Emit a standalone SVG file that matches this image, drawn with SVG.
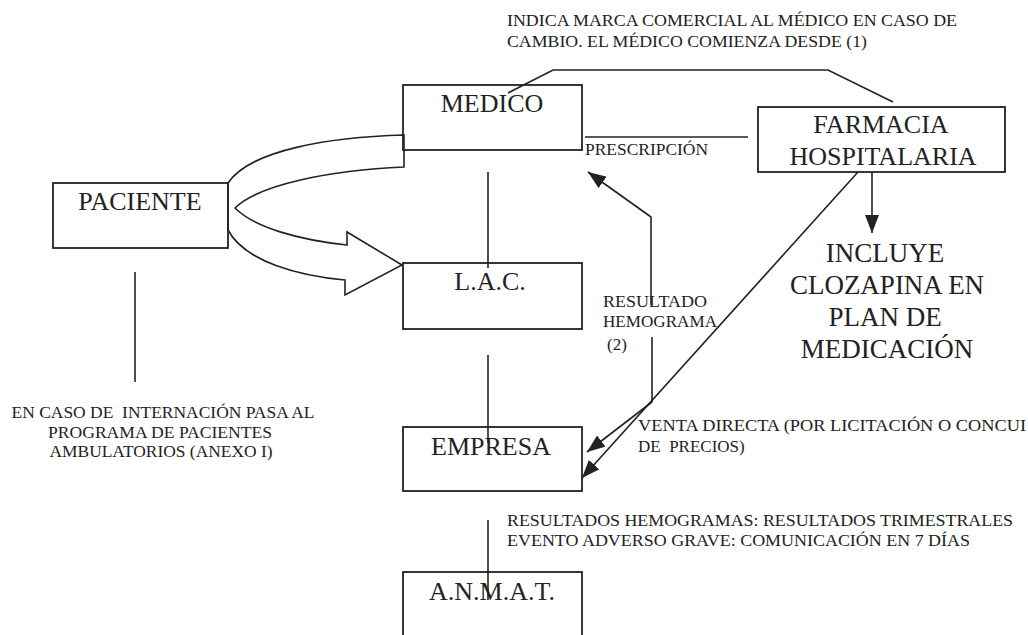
<svg xmlns="http://www.w3.org/2000/svg" width="1028" height="635" viewBox="0 0 1028 635">
  <style>
    .box { fill: none; stroke: #222; stroke-width: 1.8; }
    .ln { fill: none; stroke: #222; stroke-width: 1.6; }
    .big { font-family: "Liberation Serif", "Times New Roman", serif; font-size: 26px; fill: #222; text-anchor: middle; }
    .inc { font-family: "Liberation Serif", "Times New Roman", serif; font-size: 27px; fill: #222; text-anchor: middle; }
    .sm { font-family: "Liberation Serif", "Times New Roman", serif; font-size: 17px; fill: #222; }
    .smc { font-family: "Liberation Serif", "Times New Roman", serif; font-size: 16px; fill: #222; text-anchor: middle; }
  </style>
  <defs>
    <marker id="ah" viewBox="0 0 18 14" refX="18" refY="7" markerWidth="18" markerHeight="14" markerUnits="userSpaceOnUse" orient="auto">
      <path d="M0,0 L18,7 L0,14 Z" fill="#222"/>
    </marker>
  </defs>
  <rect width="1028" height="635" fill="#ffffff"/>

  <g id="connectors">
    <path class="ln" fill="#fff" d="M404,135 C330,137 250,150 228,183 L228,230 C245,262 300,276 345,280 L345,295 L402,265 L347,232 L347,245 C300,240 255,228 235,208 C258,185 330,170 404,167 Z"/>
    <polyline class="ln" points="508,93 553,70 828,70 893,102"/>
    <line class="ln" x1="585" y1="137" x2="748" y2="137"/>
    <line class="ln" x1="488" y1="172" x2="488" y2="268"/>
    <line class="ln" x1="488" y1="355" x2="488" y2="443"/>
    <line class="ln" x1="488" y1="520" x2="488" y2="600"/>
    <line class="ln" x1="135" y1="272" x2="135" y2="382"/>
    <line class="ln" x1="872" y1="172" x2="872" y2="233" marker-end="url(#ah)"/>
    <line class="ln" x1="858" y1="172" x2="582" y2="478" marker-end="url(#ah)"/>
    <line class="ln" x1="652" y1="402" x2="587" y2="452" marker-end="url(#ah)"/>
    <line class="ln" x1="652" y1="402" x2="652" y2="337"/>
    <polyline class="ln" points="651,305 651,217 588,172" marker-end="url(#ah)"/>
  </g>

  <g id="medico">
    <rect class="box" x="403" y="85" width="179" height="65"/>
    <text class="big" x="492" y="112">MEDICO</text>
  </g>
  <g id="farmacia">
    <rect class="box" x="758" y="107" width="247" height="65"/>
    <text class="big" x="881" y="133">FARMACIA</text>
    <text class="big" x="883" y="165">HOSPITALARIA</text>
  </g>
  <g id="paciente">
    <rect class="box" x="53" y="183" width="175" height="65"/>
    <text class="big" x="140" y="210">PACIENTE</text>
  </g>
  <g id="lac">
    <rect class="box" x="403" y="263" width="179" height="66"/>
    <text class="big" x="490" y="290">L.A.C.</text>
  </g>
  <g id="empresa">
    <rect class="box" x="403" y="427" width="179" height="64"/>
    <text class="big" x="491" y="455">EMPRESA</text>
  </g>
  <g id="anmat">
    <rect class="box" x="403" y="572" width="179" height="80"/>
    <text class="big" x="492" y="600">A.N.M.A.T.</text>
  </g>
  <g id="incluye">
    <text class="inc" x="885" y="262">INCLUYE</text>
    <text class="inc" x="887" y="294">CLOZAPINA EN</text>
    <text class="inc" x="885" y="326">PLAN DE</text>
    <text class="inc" x="887" y="358">MEDICACIÓN</text>
  </g>

  <g id="labels">
    <text class="sm" x="507" y="26" textLength="450" lengthAdjust="spacingAndGlyphs">INDICA MARCA COMERCIAL AL MÉDICO EN CASO DE</text>
    <text class="sm" x="507" y="47" textLength="360" lengthAdjust="spacingAndGlyphs">CAMBIO. EL MÉDICO COMIENZA DESDE (1)</text>
    <text class="sm" x="585" y="155" textLength="123" lengthAdjust="spacingAndGlyphs">PRESCRIPCIÓN</text>
    <text class="sm" x="603" y="307" textLength="104" lengthAdjust="spacingAndGlyphs">RESULTADO</text>
    <text class="sm" x="603" y="327" textLength="114" lengthAdjust="spacingAndGlyphs">HEMOGRAMA</text>
    <text class="sm" x="607" y="350">(2)</text>
    <text class="sm" x="638" y="431" textLength="388" lengthAdjust="spacingAndGlyphs">VENTA DIRECTA (POR LICITACIÓN O CONCUI</text>
    <text class="sm" x="638" y="452" xml:space="preserve">DE  PRECIOS)</text>
    <text class="sm" x="507" y="526" textLength="506" lengthAdjust="spacingAndGlyphs">RESULTADOS HEMOGRAMAS: RESULTADOS TRIMESTRALES</text>
    <text class="sm" x="507" y="546" textLength="463" lengthAdjust="spacingAndGlyphs">EVENTO ADVERSO GRAVE: COMUNICACIÓN EN 7 DÍAS</text>
    <text class="smc" x="163" y="418" textLength="303" lengthAdjust="spacingAndGlyphs" xml:space="preserve">EN CASO DE  INTERNACIÓN PASA AL</text>
    <text class="smc" x="160" y="438" textLength="224" lengthAdjust="spacingAndGlyphs">PROGRAMA DE PACIENTES</text>
    <text class="smc" x="161" y="457" textLength="223" lengthAdjust="spacingAndGlyphs">AMBULATORIOS (ANEXO I)</text>
  </g>
</svg>
